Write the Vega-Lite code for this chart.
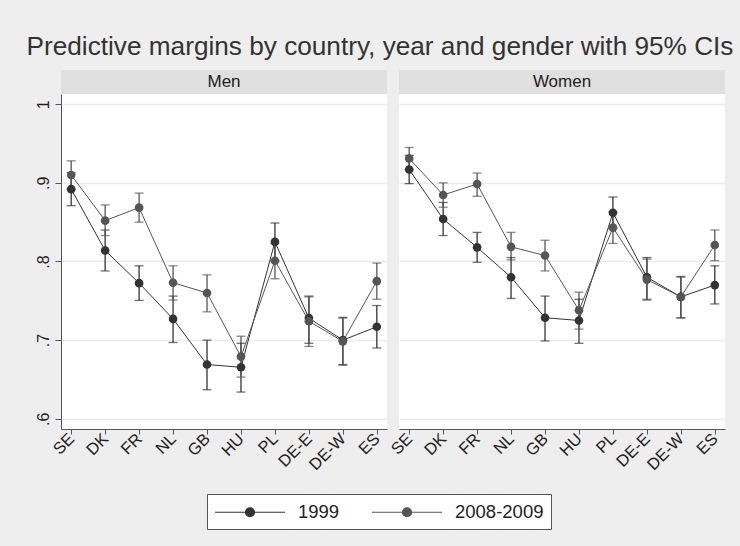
{
  "$schema": "https://vega.github.io/schema/vega-lite/v6.json",
  "background": "#eeeeee",
  "padding": {"left": 26, "top": 33, "right": 7, "bottom": 17},
  "title": {"text": "Predictive margins by country, year and gender with 95% CIs", "fontSize": 26.2, "fontWeight": "normal", "color": "#333333", "anchor": "middle", "offset": 10},
  "datasets": {
    "m": [
      {"gender": "Men", "country": "SE", "year": "1999", "margin": 0.892, "lo": 0.871, "hi": 0.913},
      {"gender": "Men", "country": "SE", "year": "2008-2009", "margin": 0.910, "lo": 0.892, "hi": 0.928},
      {"gender": "Men", "country": "DK", "year": "1999", "margin": 0.814, "lo": 0.788, "hi": 0.840},
      {"gender": "Men", "country": "DK", "year": "2008-2009", "margin": 0.852, "lo": 0.833, "hi": 0.872},
      {"gender": "Men", "country": "FR", "year": "1999", "margin": 0.7725, "lo": 0.7505, "hi": 0.7945},
      {"gender": "Men", "country": "FR", "year": "2008-2009", "margin": 0.8685, "lo": 0.850, "hi": 0.887},
      {"gender": "Men", "country": "NL", "year": "1999", "margin": 0.727, "lo": 0.697, "hi": 0.756},
      {"gender": "Men", "country": "NL", "year": "2008-2009", "margin": 0.773, "lo": 0.751, "hi": 0.7945},
      {"gender": "Men", "country": "GB", "year": "1999", "margin": 0.669, "lo": 0.637, "hi": 0.700},
      {"gender": "Men", "country": "GB", "year": "2008-2009", "margin": 0.760, "lo": 0.736, "hi": 0.783},
      {"gender": "Men", "country": "HU", "year": "1999", "margin": 0.6655, "lo": 0.634, "hi": 0.696},
      {"gender": "Men", "country": "HU", "year": "2008-2009", "margin": 0.679, "lo": 0.653, "hi": 0.705},
      {"gender": "Men", "country": "PL", "year": "1999", "margin": 0.825, "lo": 0.801, "hi": 0.849},
      {"gender": "Men", "country": "PL", "year": "2008-2009", "margin": 0.801, "lo": 0.778, "hi": 0.823},
      {"gender": "Men", "country": "DE-E", "year": "1999", "margin": 0.728, "lo": 0.696, "hi": 0.756},
      {"gender": "Men", "country": "DE-E", "year": "2008-2009", "margin": 0.724, "lo": 0.692, "hi": 0.755},
      {"gender": "Men", "country": "DE-W", "year": "1999", "margin": 0.700, "lo": 0.669, "hi": 0.729},
      {"gender": "Men", "country": "DE-W", "year": "2008-2009", "margin": 0.6985, "lo": 0.668, "hi": 0.728},
      {"gender": "Men", "country": "ES", "year": "1999", "margin": 0.717, "lo": 0.690, "hi": 0.744},
      {"gender": "Men", "country": "ES", "year": "2008-2009", "margin": 0.775, "lo": 0.752, "hi": 0.798},
      {"gender": "Women", "country": "SE", "year": "1999", "margin": 0.917, "lo": 0.899, "hi": 0.935},
      {"gender": "Women", "country": "SE", "year": "2008-2009", "margin": 0.931, "lo": 0.917, "hi": 0.945},
      {"gender": "Women", "country": "DK", "year": "1999", "margin": 0.854, "lo": 0.833, "hi": 0.875},
      {"gender": "Women", "country": "DK", "year": "2008-2009", "margin": 0.8846, "lo": 0.869, "hi": 0.900},
      {"gender": "Women", "country": "FR", "year": "1999", "margin": 0.818, "lo": 0.799, "hi": 0.837},
      {"gender": "Women", "country": "FR", "year": "2008-2009", "margin": 0.8985, "lo": 0.883, "hi": 0.9125},
      {"gender": "Women", "country": "NL", "year": "1999", "margin": 0.780, "lo": 0.753, "hi": 0.805},
      {"gender": "Women", "country": "NL", "year": "2008-2009", "margin": 0.8186, "lo": 0.802, "hi": 0.837},
      {"gender": "Women", "country": "GB", "year": "1999", "margin": 0.7285, "lo": 0.699, "hi": 0.756},
      {"gender": "Women", "country": "GB", "year": "2008-2009", "margin": 0.8076, "lo": 0.788, "hi": 0.827},
      {"gender": "Women", "country": "HU", "year": "1999", "margin": 0.725, "lo": 0.696, "hi": 0.752},
      {"gender": "Women", "country": "HU", "year": "2008-2009", "margin": 0.738, "lo": 0.714, "hi": 0.761},
      {"gender": "Women", "country": "PL", "year": "1999", "margin": 0.862, "lo": 0.842, "hi": 0.882},
      {"gender": "Women", "country": "PL", "year": "2008-2009", "margin": 0.843, "lo": 0.823, "hi": 0.863},
      {"gender": "Women", "country": "DE-E", "year": "1999", "margin": 0.780, "lo": 0.751, "hi": 0.805},
      {"gender": "Women", "country": "DE-E", "year": "2008-2009", "margin": 0.777, "lo": 0.752, "hi": 0.803},
      {"gender": "Women", "country": "DE-W", "year": "1999", "margin": 0.755, "lo": 0.7285, "hi": 0.781},
      {"gender": "Women", "country": "DE-W", "year": "2008-2009", "margin": 0.755, "lo": 0.728, "hi": 0.780},
      {"gender": "Women", "country": "ES", "year": "1999", "margin": 0.770, "lo": 0.746, "hi": 0.7945},
      {"gender": "Women", "country": "ES", "year": "2008-2009", "margin": 0.821, "lo": 0.801, "hi": 0.840}
    ],
    "strips": [{"gender": "Men"}, {"gender": "Women"}]
  },
  "bounds": "flush",
  "columns": 2,
  "spacing": {"row": 0, "column": 12},
  "concat": [
    {
      "data": {"name": "strips"},
      "transform": [{"filter": "datum.gender === 'Men'"}],
      "width": 326, "height": 24,
      "view": {"fill": "#e0e0e0", "stroke": null},
      "mark": {"type": "text", "fontSize": 17, "color": "#222222"},
      "encoding": {"text": {"field": "gender", "type": "nominal"}}
    },
    {
      "data": {"name": "strips"},
      "transform": [{"filter": "datum.gender === 'Women'"}],
      "width": 326, "height": 24,
      "view": {"fill": "#e0e0e0", "stroke": null},
      "mark": {"type": "text", "fontSize": 17, "color": "#222222"},
      "encoding": {"text": {"field": "gender", "type": "nominal"}}
    },
    {
      "data": {"name": "m"},
      "transform": [{"filter": "datum.gender === 'Men'"}],
      "width": 326, "height": 335,
      "view": {"fill": "white", "stroke": null},
      "encoding": {
        "x": {"field": "country", "type": "nominal", "title": null,
              "sort": ["SE", "DK", "FR", "NL", "GB", "HU", "PL", "DE-E", "DE-W", "ES"],
              "scale": {"type": "point", "padding": 0.3},
              "axis": {"labelAngle": -45, "labelAlign": "right", "labelBaseline": "middle", "labelFontSize": 16.5, "labelColor": "#222222", "tickSize": 5, "labelPadding": 2, "domainColor": "#555555", "tickColor": "#555555", "grid": false}},
        "color": {"field": "year", "type": "nominal", "title": null,
                  "scale": {"domain": ["1999", "2008-2009"], "range": ["#333333", "#555555"]},
                  "legend": {"orient": "none", "legendX": 146, "legendY": 424, "direction": "horizontal",
                             "symbolType": "M-1,0H6M2.95,0A0.45,0.45,0,1,1,2.05,0A0.45,0.45,0,1,1,2.95,0Z",
                             "symbolSize": 400, "symbolStrokeWidth": 1.2, "labelFontSize": 18.5, "labelColor": "#222222",
                             "labelOffset": 62, "columnPadding": 29, "padding": 7, "fillColor": "white", "strokeColor": "#555555",
                             "encode": {"symbols": {"update": {"fill": {"scale": "color", "field": "value"}, "stroke": {"scale": "color", "field": "value"}, "opacity": {"value": 1}}}}}}
      },
      "layer": [
        {"mark": {"type": "rule", "strokeWidth": 1.3},
         "encoding": {"y": {"field": "lo", "type": "quantitative", "title": null,
                            "scale": {"domain": [0.587, 1.013], "nice": false, "zero": false},
                            "axis": {"values": [0.6, 0.7, 0.8, 0.9, 1], "labelExpr": "datum.value == 1 ? '1' : replace(format(datum.value, '.1f'), '0.', '.')",
                                     "labelAngle": -90, "labelAlign": "center", "labelBaseline": "bottom", "labelFontSize": 16, "labelColor": "#222222",
                                     "tickSize": 6, "labelPadding": 4, "grid": true, "gridColor": "#ebebeb", "gridWidth": 1.5, "domainColor": "#555555", "tickColor": "#555555"}},
                      "y2": {"field": "hi"}}},
        {"mark": {"type": "tick", "size": 9, "thickness": 1.3}, "encoding": {"y": {"field": "lo", "type": "quantitative", "title": null}}},
        {"mark": {"type": "tick", "size": 9, "thickness": 1.3}, "encoding": {"y": {"field": "hi", "type": "quantitative", "title": null}}},
        {"mark": {"type": "line", "strokeWidth": 1}, "encoding": {"y": {"field": "margin", "type": "quantitative", "title": null}}},
        {"mark": {"type": "point", "filled": true, "size": 75, "opacity": 1}, "encoding": {"y": {"field": "margin", "type": "quantitative", "title": null}}}
      ]
    },
    {
      "data": {"name": "m"},
      "transform": [{"filter": "datum.gender === 'Women'"}],
      "width": 326, "height": 335,
      "view": {"fill": "white", "stroke": null},
      "encoding": {
        "x": {"field": "country", "type": "nominal", "title": null,
              "sort": ["SE", "DK", "FR", "NL", "GB", "HU", "PL", "DE-E", "DE-W", "ES"],
              "scale": {"type": "point", "padding": 0.3},
              "axis": {"labelAngle": -45, "labelAlign": "right", "labelBaseline": "middle", "labelFontSize": 16.5, "labelColor": "#222222", "tickSize": 5, "labelPadding": 2, "domainColor": "#555555", "tickColor": "#555555", "grid": false}},
        "color": {"field": "year", "type": "nominal", "title": null,
                  "scale": {"domain": ["1999", "2008-2009"], "range": ["#333333", "#555555"]}}
      },
      "layer": [
        {"mark": {"type": "rule", "strokeWidth": 1.3},
         "encoding": {"y": {"field": "lo", "type": "quantitative", "title": null,
                            "scale": {"domain": [0.587, 1.013], "nice": false, "zero": false},
                            "axis": {"values": [0.6, 0.7, 0.8, 0.9, 1], "labels": false, "ticks": false, "domain": false, "grid": true, "gridColor": "#ebebeb", "gridWidth": 1.5}},
                      "y2": {"field": "hi"}}},
        {"mark": {"type": "tick", "size": 9, "thickness": 1.3}, "encoding": {"y": {"field": "lo", "type": "quantitative", "title": null}}},
        {"mark": {"type": "tick", "size": 9, "thickness": 1.3}, "encoding": {"y": {"field": "hi", "type": "quantitative", "title": null}}},
        {"mark": {"type": "line", "strokeWidth": 1}, "encoding": {"y": {"field": "margin", "type": "quantitative", "title": null}}},
        {"mark": {"type": "point", "filled": true, "size": 75, "opacity": 1}, "encoding": {"y": {"field": "margin", "type": "quantitative", "title": null}}}
      ]
    }
  ],
  "config": {
    "font": "Liberation Sans",
    "axis": {"labelFont": "Liberation Sans"},
    "legend": {"labelFont": "Liberation Sans"}
  }
}
